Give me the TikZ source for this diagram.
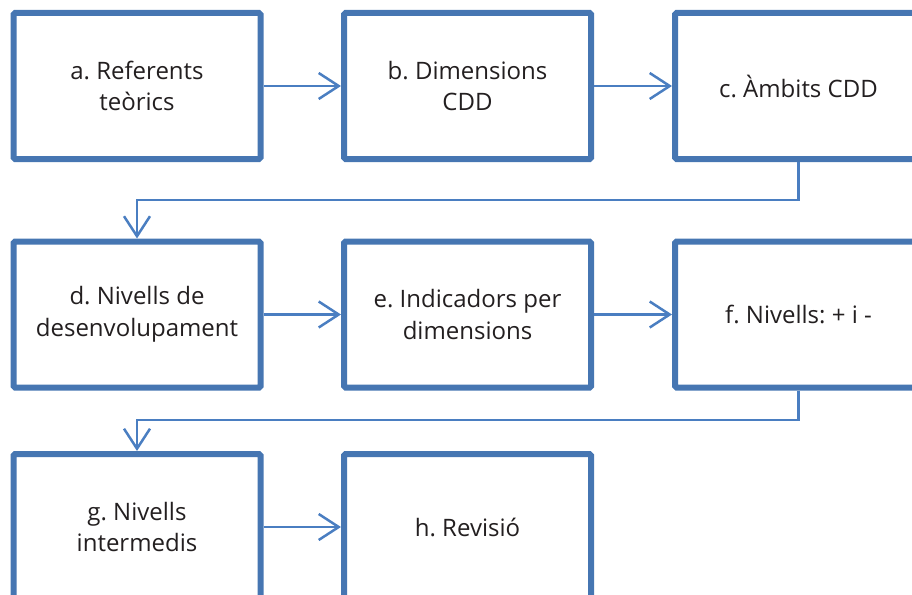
\documentclass[tikz,border=0pt]{standalone}
\usepackage{fontspec}
\setmainfont{Open Sans}
\usetikzlibrary{arrows.meta}
\definecolor{boxblue}{RGB}{70,118,178}
\definecolor{arrowblue}{RGB}{74,126,193}
\definecolor{txt}{RGB}{35,31,32}
\frenchspacing
\begin{document}
\begin{tikzpicture}[x=1pt,y=-1pt,
  stepbox/.style={draw=boxblue, line width=6pt, rounded corners=1.5pt, fill=white,
    minimum width=247pt, minimum height=146pt, inner sep=0pt, align=center,
    text=txt, font=\fontsize{24}{31.5}\selectfont},
  conn/.style={draw=arrowblue, line width=2.5pt,
    -{Straight Barb[length=20pt,width=26pt,line width=2.5pt]}}]
\useasboundingbox (0,0) rectangle (912,594);
\node[stepbox] (a) at (137,86) {a. Referents\\teòrics};
\node[stepbox] (b) at (467.5,86) {b. Dimensions\\CDD};
\node[stepbox] (c) at (798.5,86) {c. Àmbits CDD};
\node[stepbox] (d) at (137,314.5) {d. Nivells de\\desenvolupament};
\node[stepbox] (e) at (467.5,314.5) {e. Indicadors per\\dimensions};
\node[stepbox] (f) at (798.5,314.5) {f. Nivells: + i -};
\node[stepbox] (g) at (137,527) {g. Nivells\\intermedis};
\node[stepbox] (h) at (467.5,527) {h. Revisió};
\coordinate (k1) at (798.5,200);
\coordinate (k2) at (798.5,420);
\draw[conn] (a) -- (b);
\draw[conn] (b) -- (c);
\draw[conn] (d) -- (e);
\draw[conn] (e) -- (f);
\draw[conn] (g) -- (h);
\draw[conn] (c.south) -- (k1) -| (d.north);
\draw[conn] (f.south) -- (k2) -| (g.north);
\end{tikzpicture}
\end{document}
